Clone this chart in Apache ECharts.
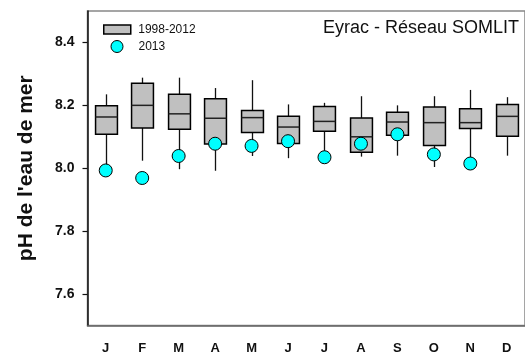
<!DOCTYPE html>
<html>
<head>
<meta charset="utf-8">
<script src="https://cdn.jsdelivr.net/npm/echarts@6/dist/echarts.min.js"></script>
<style>
  html, body { margin: 0; padding: 0; background: #fff; }
  #chart { width: 525px; height: 361px; }
</style>
</head>
<body>
<div id="chart"></div>
<script>
// Monthly pH of sea water at Eyrac (SOMLIT network)
const months = ['J', 'F', 'M', 'A', 'M', 'J', 'J', 'A', 'S', 'O', 'N', 'D'];

// 1998-2012 distribution per month
const whiskerLow  = [8.010, 8.024, 7.997, 7.992, 8.039, 8.032, 8.050, 8.037, 8.040, 8.004, 8.020, 8.040];
const quartile1   = [8.108, 8.128, 8.124, 8.077, 8.114, 8.079, 8.118, 8.051, 8.105, 8.072, 8.126, 8.102];
const medians     = [8.163, 8.200, 8.173, 8.159, 8.161, 8.131, 8.149, 8.100, 8.147, 8.145, 8.145, 8.165];
const quartile3   = [8.199, 8.270, 8.235, 8.221, 8.184, 8.165, 8.196, 8.160, 8.178, 8.195, 8.189, 8.203];
const whiskerHigh = [8.235, 8.288, 8.288, 8.255, 8.280, 8.203, 8.208, 8.229, 8.200, 8.229, 8.249, 8.226];

// 2013 values (no December measurement)
const ph2013 = [7.993, 7.969, 8.039, 8.078, 8.071, 8.086, 8.035, 8.078, 8.108, 8.044, 8.015, null];

const yTicks = [7.6, 7.8, 8.0, 8.2, 8.4];

const boxData = months.map((m, i) => [i, whiskerLow[i], quartile1[i], medians[i], quartile3[i], whiskerHigh[i]]);
const pointData = ph2013.map((v, i) => (v === null ? [i, '-'] : [i, v]));

const FONT = 'Liberation Sans, Arial, sans-serif';

// Box without whisker caps: vertical whiskers, grey box, median bar
function renderBox(params, api) {
  const i = api.value(0);
  const lo = api.coord([i, api.value(1)]);
  const q1 = api.coord([i, api.value(2)]);
  const md = api.coord([i, api.value(3)]);
  const q3 = api.coord([i, api.value(4)]);
  const hi = api.coord([i, api.value(5)]);
  const w = api.size([1, 0])[0] * 0.6;
  const cx = Math.round(q1[0]) + 0.5;
  const lineStyle = { stroke: '#111', lineWidth: 1.3 };
  return {
    type: 'group',
    children: [
      { type: 'line', shape: { x1: cx, y1: hi[1], x2: cx, y2: q3[1] }, style: lineStyle },
      { type: 'line', shape: { x1: cx, y1: q1[1], x2: cx, y2: lo[1] }, style: lineStyle },
      { type: 'rect', shape: { x: cx - w / 2, y: q3[1], width: w, height: q1[1] - q3[1] },
        style: { fill: '#c0c0c0', stroke: '#000', lineWidth: 1.5 } },
      { type: 'line', shape: { x1: cx - w / 2, y1: md[1], x2: cx + w / 2, y2: md[1] },
        style: { stroke: '#222', lineWidth: 1.5 } }
    ]
  };
}

const chart = echarts.init(document.getElementById('chart'), null, { renderer: 'canvas' });
chart.setOption({
  animation: false,
  backgroundColor: '#fff',
  title: {
    text: 'Eyrac - Réseau SOMLIT',
    right: 1,
    top: 14,
    textStyle: { fontFamily: FONT, fontSize: 18, fontWeight: 'normal', color: '#111' }
  },
  legend: [
    {
      data: [{ name: '1998-2012', icon: 'rect', itemStyle: { color: '#c0c0c0', borderColor: '#000', borderWidth: 1.5 } }],
      left: 103, top: 23.5, padding: 0,
      itemWidth: 27, itemHeight: 9,
      selectedMode: false,
      textStyle: { fontFamily: FONT, fontSize: 12, color: '#111', padding: [0, 0, 0, 2.5] }
    },
    {
      data: [{ name: '2013', icon: 'circle', itemStyle: { color: '#00ffff', borderColor: '#000', borderWidth: 1 } }],
      left: 110.5, top: 40, padding: 0,
      itemWidth: 12, itemHeight: 12,
      selectedMode: false,
      textStyle: { fontFamily: FONT, fontSize: 12, color: '#111', padding: [0, 0, 0, 10.5] }
    }
  ],
  grid: {
    left: 87.5, right: -1, top: 11, bottom: 35.5,
    show: true, borderColor: '#888', borderWidth: 1.5, backgroundColor: 'transparent'
  },
  xAxis: {
    type: 'category',
    data: months,
    boundaryGap: true,
    axisLine: { lineStyle: { color: '#666', width: 1.5 } },
    axisTick: { alignWithLabel: true, length: 5, lineStyle: { color: '#444', width: 1.2 } },
    axisLabel: { fontFamily: FONT, fontSize: 13, fontWeight: 'bold', color: '#111', margin: 16 },
    splitLine: { show: false }
  },
  yAxis: {
    type: 'value',
    min: 7.5, max: 8.5, interval: 0.1,
    name: "pH de l'eau de mer",
    nameLocation: 'middle',
    nameGap: 51,
    nameTextStyle: { fontFamily: FONT, fontSize: 21, fontWeight: 'bold', color: '#111' },
    axisLine: { show: true, lineStyle: { color: '#111', width: 1.5 } },
    axisTick: { show: true, length: 5, customValues: yTicks, lineStyle: { color: '#111', width: 1.2 } },
    axisLabel: {
      customValues: yTicks,
      fontFamily: FONT, fontSize: 14, fontWeight: 'bold', color: '#111', margin: 13,
      formatter: v => v.toFixed(1)
    },
    splitLine: { show: false }
  },
  series: [
    {
      name: '1998-2012',
      type: 'custom',
      renderItem: renderBox,
      encode: { x: 0, y: [1, 2, 3, 4, 5] },
      data: boxData,
      z: 2
    },
    {
      name: '2013',
      type: 'scatter',
      data: pointData,
      symbol: 'circle',
      symbolSize: 13,
      itemStyle: { color: '#00ffff', borderColor: '#000', borderWidth: 1, opacity: 1 },
      z: 3
    }
  ]
});
</script>
</body>
</html>
